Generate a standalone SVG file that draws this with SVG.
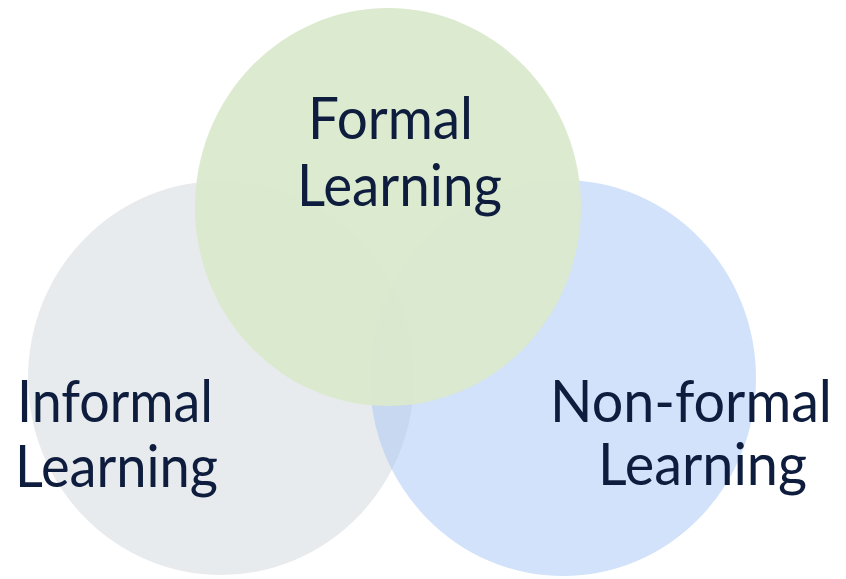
<svg xmlns="http://www.w3.org/2000/svg" width="846" height="579" viewBox="0 0 846 579">
<style>
.lbl{font-family:"Lato","Open Sans","DejaVu Sans",sans-serif;font-size:58px;fill:#0e1d3d}
</style>
<defs>
<clipPath id="clipGrey"><ellipse cx="221" cy="378" rx="193" ry="197"/></clipPath>
</defs>
<rect width="846" height="579" fill="#ffffff"/>
<g id="informal">
<ellipse cx="221" cy="378" rx="193" ry="197" fill="#e8ebed"/>
</g>
<g id="nonformal">
<ellipse cx="563" cy="378" rx="193" ry="198" fill="#d2e2fa"/>
<ellipse cx="563" cy="378" rx="193" ry="198" fill="#c8d8f0" clip-path="url(#clipGrey)"/>
</g>
<g id="formal">
<ellipse cx="388" cy="207" rx="193" ry="199" fill="#dae9cc" fill-opacity="0.94"/>
</g>
<g id="connectors"></g>
<g id="labels">
<text class="lbl" x="308" y="139" textLength="165" lengthAdjust="spacingAndGlyphs">Formal</text>
<text class="lbl" x="297" y="206" textLength="205" lengthAdjust="spacingAndGlyphs">Learning</text>
<text class="lbl" x="17" y="422" textLength="196" lengthAdjust="spacingAndGlyphs">Informal</text>
<text class="lbl" x="15" y="487" textLength="203" lengthAdjust="spacingAndGlyphs">Learning</text>
<text class="lbl" x="550" y="422" textLength="282" lengthAdjust="spacingAndGlyphs">Non-formal</text>
<text class="lbl" x="598" y="485" textLength="209" lengthAdjust="spacingAndGlyphs">Learning</text>
</g>
</svg>
